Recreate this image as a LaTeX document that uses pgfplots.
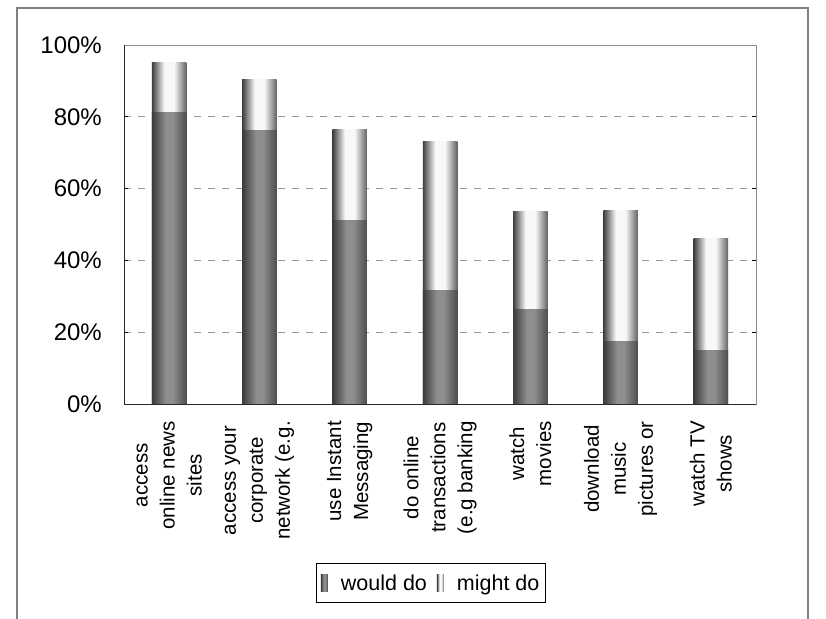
\documentclass[border=0pt]{standalone}
\usepackage{pgfplots}
\pgfplotsset{compat=1.18}
\usepackage{fontspec}
\setmainfont{Liberation Sans}
\definecolor{w1}{HTML}{3A3A3A}
\definecolor{w2}{HTML}{8E8E8E}
\definecolor{w3}{HTML}{4E4E4E}
\definecolor{m1}{HTML}{3E3E3E}
\definecolor{m2}{HTML}{F8F8F8}
\definecolor{m3}{HTML}{626262}
\pgfdeclarehorizontalshading{wouldshade}{100bp}{color(0bp)=(w1); color(25bp)=(w1); color(45bp)=(w2); color(55bp)=(w2); color(75bp)=(w3); color(100bp)=(w3)}
\pgfdeclarehorizontalshading{mightshade}{100bp}{color(0bp)=(m1); color(25bp)=(m1); color(43bp)=(m2); color(57bp)=(m2); color(75bp)=(m3); color(100bp)=(m3)}
\pgfplotsset{
  would/.style={draw=none, shading=wouldshade, shade, forget plot},
  might/.style={draw=none, shading=mightshade, shade, forget plot},
}
\begin{document}
\begin{tikzpicture}[x=1pt,y=1pt]
\useasboundingbox (0,0) rectangle (826,618);
\draw[color={rgb,255:red,128;green,128;blue,128}, line width=1.5pt] (17,-2) -- (17,610) -- (808,610) -- (808,-2);
\begin{axis}[
  at={(124pt,214pt)}, anchor=south west,
  scale only axis, width=632pt, height=359pt,
  ybar, bar width=34.5pt, bar shift=0pt,
  xmin=-0.5, xmax=6.5, ymin=0, ymax=100,
  axis line style={draw={rgb,255:red,140;green,140;blue,140}, line width=0.8pt},
  xtick={0,1,2,3,4,5,6},
  xticklabels={{access\\online news\\sites},{access your\\corporate\\network (e.g.},{use Instant\\Messaging},{do online\\transactions\\(e.g banking},{watch\\movies},{download\\music\\pictures or},{watch TV\\shows}},
  x tick label style={rotate=90, anchor=east, align=center, inner sep=0pt, font=\fontsize{20.5}{27}\selectfont},
  xticklabel shift=17pt,
  major x tick style={draw=none},
  ytick={0,20,40,60,80,100},
  yticklabels={0\%,20\%,40\%,60\%,80\%,100\%},
  y tick label style={anchor=east, inner sep=0pt, font=\fontsize{24}{28}\selectfont},
  yticklabel shift=22pt,
  tick align=inside, major tick length=4pt,
  y tick style={draw=black, line width=0.8pt},
  ymajorgrids, grid style={dash pattern=on 7pt off 7pt, color={rgb,255:red,150;green,150;blue,150}, line width=0.9pt},
  legend columns=2,
  legend style={at={(0.486,-0.443)}, anchor=north, draw=black, line width=0.8pt,
    font=\fontsize{21.5}{25}\selectfont, inner xsep=4pt, inner ysep=9pt,
    /tikz/every odd column/.append style={column sep=11pt},
    /tikz/every even column/.append style={column sep=8pt}},
  legend image code/.code={\path[#1, draw=none] (0pt,-8.5pt) rectangle (7pt,8.5pt);},
  clip=false,
]
% might do: drawn as full totals (would + might), would-do drawn over them
\addplot[might] coordinates {(0,95.0)};
\addplot[might] coordinates {(1,90.3)};
\addplot[might] coordinates {(2,76.6)};
\addplot[might] coordinates {(3,73.0)};
\addplot[might] coordinates {(4,53.5)};
\addplot[might] coordinates {(5,53.8)};
\addplot[might] coordinates {(6,46.2)};
% would do
\addplot[would] coordinates {(0,81.1)};
\addplot[would] coordinates {(1,76.3)};
\addplot[would] coordinates {(2,51.1)};
\addplot[would] coordinates {(3,31.5)};
\addplot[would] coordinates {(4,26.2)};
\addplot[would] coordinates {(5,17.5)};
\addplot[would] coordinates {(6,15.0)};
\addlegendimage{draw=none, shading=wouldshade, shade}
\addlegendentry{would do}
\addlegendimage{draw=none, shading=mightshade, shade}
\addlegendentry{might do}
\draw[color={rgb,255:red,40;green,40;blue,40}, line width=1pt] (rel axis cs:0,1) -- (rel axis cs:0,0) -- (rel axis cs:1,0);
\end{axis}
\end{tikzpicture}
\end{document}
